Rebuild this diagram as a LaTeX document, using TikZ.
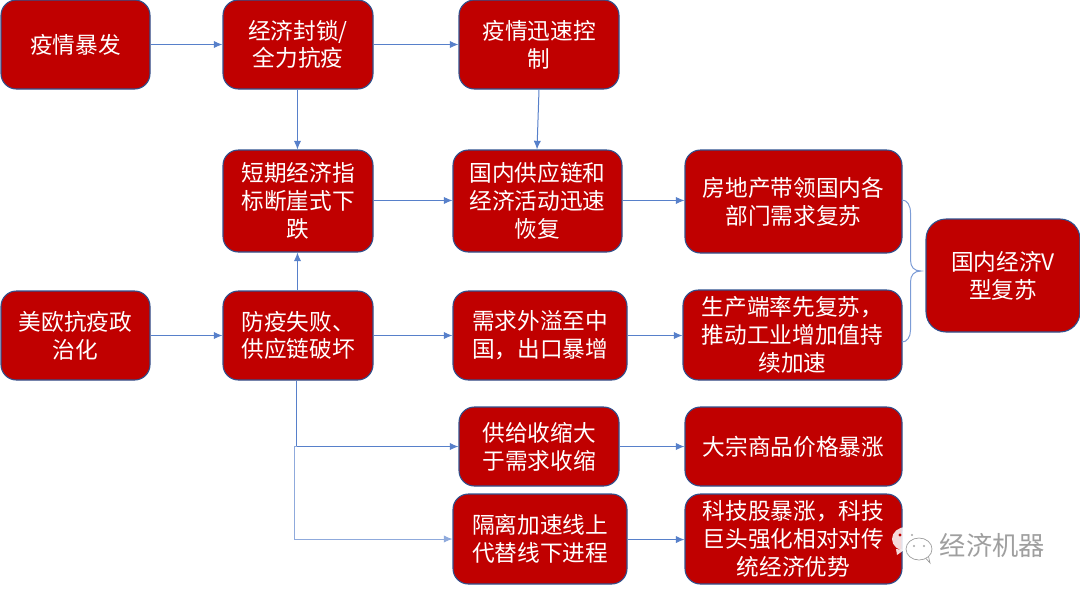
\documentclass[tikz,border=0pt]{standalone}
\usepackage{fontspec}
\setmainfont{Noto Sans CJK SC}
\definecolor{boxred}{HTML}{C00000}
\definecolor{boxline}{HTML}{2F528F}
\definecolor{linkblue}{HTML}{4472C4}
\usetikzlibrary{arrows.meta}
\tikzset{
  box/.style={draw=boxline,line width=0.8pt,fill=boxred,text=white,align=center,inner sep=0pt,
    rounded corners=11.5pt,font=\fontsize{17pt}{20.8pt}\selectfont},
  link/.style={draw=linkblue!90!white,line width=0.75pt,-{Latex[length=6.5pt,width=5.5pt]}},
  plain/.style={draw=linkblue!70!white,line width=0.75pt},
}
\newcommand{\bx}[6]{\node[box] (#1) at ({(#2+#3)/2},{(#4+#5)/2}) [minimum width={(#3-#2)*0.75pt},minimum height={(#5-#4)*0.75pt}] {#6};}
\begin{document}
\begin{tikzpicture}[x=0.75pt,y=-0.75pt]
\useasboundingbox (0,0) rectangle (1080,594);
\bx{a}{1}{150}{0}{89}{疫情暴发}
\bx{b}{223}{373}{0}{89}{经济封锁/\\全力抗疫}
\bx{c}{459}{619}{0}{89}{疫情迅速控\\制}
\bx{d}{223}{373}{150}{252}{短期经济指\\标断崖式下\\跌}
\bx{e}{453}{622}{150}{252}{国内供应链和\\经济活动迅速\\恢复}
\bx{f}{685}{902}{150}{253}{房地产带领国内各\\部门需求复苏}
\bx{g}{1}{150}{291}{380}{美欧抗疫政\\治化}
\bx{h}{223}{373}{291}{380}{防疫失败、\\供应链破坏}
\bx{i}{453}{627}{291}{380}{需求外溢至中\\国，出口暴增}
\bx{j}{683}{902}{290}{380}{生产端率先复苏，\\推动工业增加值持\\续加速}
\node[box,rounded corners=15pt] (k) at (1003,275.5) [minimum width={154*0.75pt},minimum height={113*0.75pt}] {国内经济V\\型复苏};
\bx{l}{459}{619}{407}{486}{供给收缩大\\于需求收缩}
\bx{m}{453}{627}{494}{584}{隔离加速线上\\代替线下进程}
\bx{n}{685}{902}{407}{486}{大宗商品价格暴涨}
\bx{o}{685}{902}{494}{584}{科技股暴涨，科技\\巨头强化相对对传\\统经济优势}
% connectors
\draw[link] (a.east) -- (a.east -| b.west);
\draw[link] (b.east) -- (b.east -| c.west);
\draw[link] ([xshift=-0.4pt]b.south) -- ([xshift=-0.4pt]d.north);
\draw[link] (c.south) -- ([xshift=-1.5pt]c.south |- e.north);
\draw[link] ([yshift=0.4pt]d.east) -- ([yshift=0.4pt]d.east -| e.west);
\draw[link] ([yshift=0.4pt]e.east) -- ([yshift=0.4pt]e.east -| f.west);
\draw[link] (g.east) -- (g.east -| h.west);
\draw[link] ([xshift=-0.4pt]h.north) -- ([xshift=-0.4pt]d.south);
\draw[link] (h.east) -- (h.east -| i.west);
\draw[link] (i.east) -- (i.east -| j.west);
\draw[link] (l.east) -- (l.east -| n.west);
\draw[link] ([yshift=-0.4pt]m.east) -- ([yshift=-0.4pt]m.east -| o.west);
\coordinate (hs) at ([xshift=-1.1pt]h.south);
\coordinate (split) at (hs |- l.west);
\draw[link] (hs) -- (split) -- (l.west);
\draw[link,draw=linkblue!60!white] (split) -- ++(-2,0) |- (m.west);
% brace
\coordinate (fb) at (902,200);
\coordinate (jb) at (902,342);
\draw[plain] (fb) .. controls (907,200) and (910.5,205) .. (910.5,213) -- (910.5,260)
  .. controls (910.5,267) and (914,271) .. (921,271)
  .. controls (914,271) and (910.5,275) .. (910.5,282) -- (910.5,330)
  .. controls (910.5,337) and (907,342) .. (jb);
% watermark
\fill[white,opacity=.85] (906,539) ellipse [x radius=14,y radius=12];
\fill[white,opacity=.85] (896,549) -- (897,555) -- (904,550) -- cycle;
\fill[boxred] (900,535) circle (1.7);
\fill[gray!70] (912,535) circle (1.2);
\fill[white] (919,549) ellipse [x radius=13,y radius=11];
\draw[gray!80,line width=0.5pt] (926,558.5) -- (930,563) -- (928.5,556.5);
\draw[gray!80,line width=0.5pt] (919,549) ellipse [x radius=13,y radius=11];
\fill[gray!70] (914,546) circle (1.2);
\fill[gray!70] (924,546) circle (1.2);
\node[inner sep=0pt,text=gray!75,font=\fontsize{19.7pt}{22pt}\selectfont] (wm) at (992.5,545) {经济机器};
\end{tikzpicture}
\end{document}
